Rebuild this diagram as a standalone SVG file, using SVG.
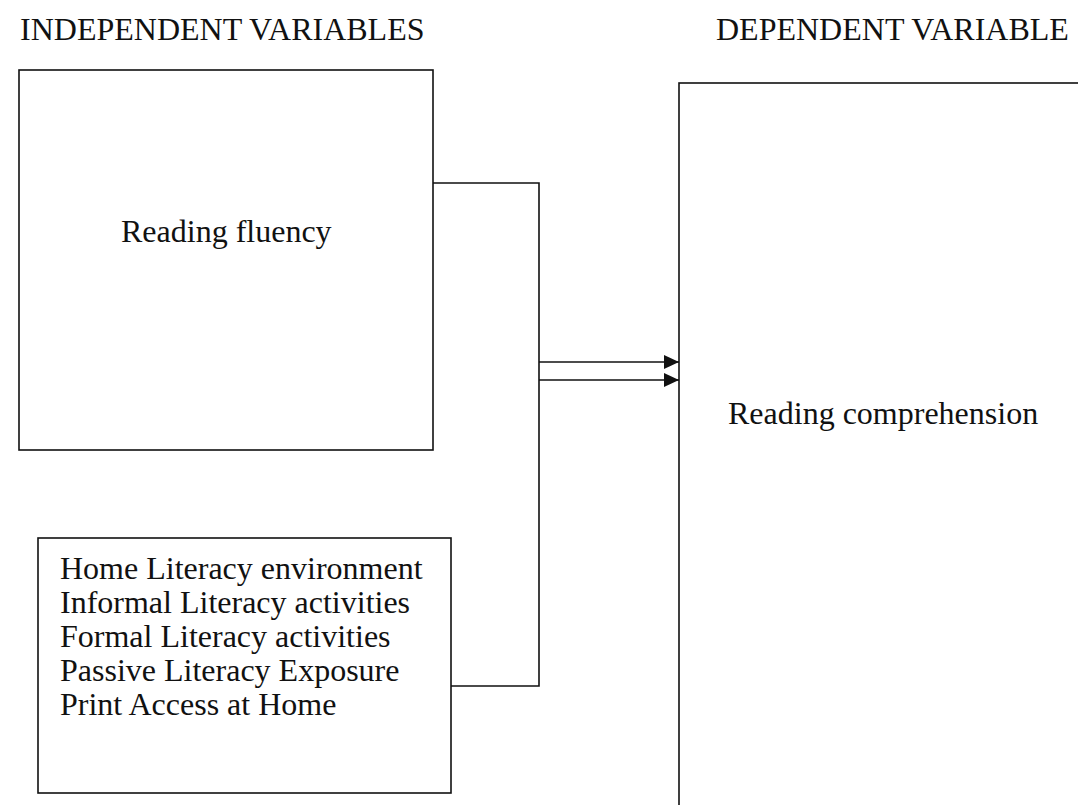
<svg xmlns="http://www.w3.org/2000/svg" width="1078" height="805" viewBox="0 0 1078 805">
<defs>
<style>
.t{font-family:"Liberation Serif","Times New Roman",serif;font-size:32px;fill:#111}
.h{font-family:"Liberation Serif","Times New Roman",serif;font-size:32px;fill:#111}
.b{fill:#fff;stroke:#111;stroke-width:1.6}
.c{fill:none;stroke:#111;stroke-width:1.6}
</style>
<marker id="ah" markerWidth="16" markerHeight="14" refX="15" refY="7" orient="auto" markerUnits="userSpaceOnUse">
<path d="M0,0 L15,7 L0,14 Z" fill="#111"/>
</marker>
</defs>
<rect width="1078" height="805" fill="#fff"/>
<text class="h" x="20" y="40">INDEPENDENT VARIABLES</text>
<text class="h" x="716" y="40">DEPENDENT VARIABLE</text>
<g id="node-fluency">
<rect class="b" x="19" y="70" width="414" height="380"/>
<text class="t" x="121" y="242">Reading fluency</text>
</g>
<g id="node-home">
<rect class="b" x="38" y="538" width="413" height="255"/>
<text class="t" x="60" y="579">Home Literacy environment</text>
<text class="t" x="60" y="613">Informal Literacy activities</text>
<text class="t" x="60" y="647">Formal Literacy activities</text>
<text class="t" x="60" y="681">Passive Literacy Exposure</text>
<text class="t" x="60" y="715">Print Access at Home</text>
</g>
<g id="node-comprehension">
<rect class="b" x="679" y="83" width="420" height="740"/>
<text class="t" x="728" y="424">Reading comprehension</text>
</g>
<g id="connectors">
<path class="c" d="M433,183 H539 V686 H451"/>
<path class="c" d="M539,362 H679" marker-end="url(#ah)"/>
<path class="c" d="M539,380 H679" marker-end="url(#ah)"/>
</g>
</svg>
